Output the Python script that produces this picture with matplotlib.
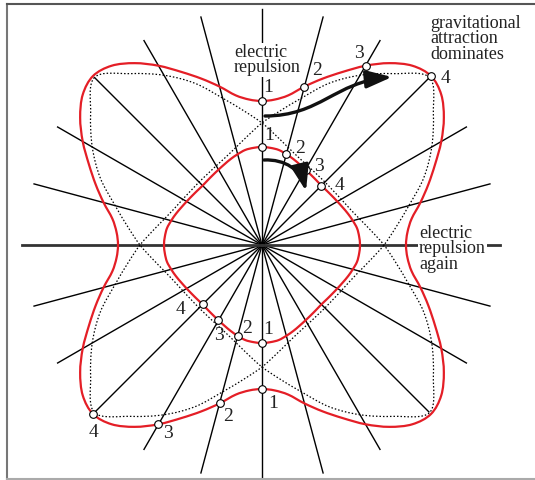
import numpy as np
import matplotlib.pyplot as plt
from matplotlib.path import Path
from matplotlib.patches import FancyArrowPatch, PathPatch
from matplotlib.transforms import IdentityTransform

# radius (px) of the two red curves, read every 5 deg from an axis (0) to a diagonal (45)
octant_deg = [0, 5, 10, 15, 20, 25, 30, 35, 40, 45]
outer_r = [144, 146, 152, 164, 177, 191, 207, 222, 234, 239]
inner_r = [98, 97.5, 96.5, 94, 91.5, 89, 87, 85.5, 84.5, 84]

# dotted curves: radius every 7.5 deg from the long axis (0) to the short axis (90)
dotted_deg = [0, 7.5, 15, 22.5, 30, 37.5, 45, 52.5, 60, 67.5, 75, 82.5, 90]
dotted_r = [237, 216, 196, 175, 152, 135, 122, 110, 101, 95, 91.5, 89.5, 89]
dotted_long_axis = [45, 135]

spoke_deg = list(range(0, 360, 15))
spoke_len = 236
haxis_len = [238, 240]  # right, left

# spokes that carry the numbered points 1..4
top_deg = [90, 75, 60, 45]
bottom_deg = [270, 255, 240, 225]
numbers = ['1', '2', '3', '4']

# label offsets in pixels from each point
off_top_outer = [(6, 14), (13, 16), (-7, 12), (15, -2)]
off_top_inner = [(7, 12), (14, 6), (13, 3), (18, 0)]
off_bot_inner = [(6, 14), (9, 7), (0, -15), (-22, -5)]
off_bot_outer = [(11, -15), (9, -13), (9, -9), (0, -19)]

RED = '#e41e26'
SERIF = 'Liberation Serif'


def radius_at(ang, step, values, period):
    # mirror the measured part around the circle
    t = ang % period
    if t > period / 2:
        t = period - t
    return values[int(round(t / step))]


def smooth_loop(ax, step, values, period, rot=0, **kw):
    angs = np.arange(0, 360, step)
    rs = [radius_at(a, step, values, period) for a in angs]
    pts = ax.transData.transform(np.column_stack([np.radians(angs + rot), rs]))
    n = len(pts)
    verts = [pts[0]]
    codes = [Path.MOVETO]
    for i in range(n):
        p0, p1, p2, p3 = pts[i - 1], pts[i], pts[(i + 1) % n], pts[(i + 2) % n]
        verts += [p1 + (p2 - p0) / 6, p2 - (p3 - p1) / 6, p2]
        codes += [Path.CURVE4] * 3
    ax.add_patch(PathPatch(Path(verts, codes), transform=IdentityTransform(),
                           fill=False, **kw))


W, H = 535, 480
cx, cy = 262, 480 - 245
R = 245
fig = plt.figure(figsize=(W / 100, H / 100), dpi=100)
ax = fig.add_axes([(cx - R) / W, (cy - R) / H, 2 * R / W, 2 * R / H], projection='polar')
ax.set_ylim(0, R)
ax.set_axis_off()

for d in spoke_deg:
    if d in (0, 180):
        continue
    ax.plot([np.radians(d)] * 2, [0, spoke_len], color='black', lw=1.0, zorder=2)
ax.plot([0, 0], [0, haxis_len[0]], color='#333333', lw=2.0, zorder=2)
ax.plot([np.pi, np.pi], [0, haxis_len[1]], color='#333333', lw=2.0, zorder=2)

for rot in dotted_long_axis:
    smooth_loop(ax, 7.5, dotted_r, 180, rot, ec='black', lw=0.9, ls=(0, (1.2, 1.6)), zorder=3)

for vals in (outer_r, inner_r):
    smooth_loop(ax, 5, vals, 90, ec=RED, lw=1.6, zorder=4)

groups = [(top_deg, outer_r, off_top_outer), (top_deg, inner_r, off_top_inner),
          (bottom_deg, inner_r, off_bot_inner), (bottom_deg, outer_r, off_bot_outer)]
for degs, vals, offs in groups:
    for d, lab, off in zip(degs, numbers, offs):
        r = radius_at(d, 5, vals, 90)
        ax.plot(np.radians(d), r, 'o', ms=5.5, mfc='white', mec='black', mew=0.8, zorder=5)
        ax.annotate(lab, xy=(np.radians(d), r), xytext=off, textcoords='offset pixels',
                    ha='center', va='center', fontsize=14, family=SERIF, color='#222222',
                    zorder=6)

# overlay in pixel coordinates for frame, words and arrows
top = fig.add_axes([0, 0, 1, 1])
top.set_xlim(0, W)
top.set_ylim(H, 0)
top.set_axis_off()
top.set_zorder(2)

top.plot([7, 7], [4, 479], color='#777777', lw=1.5)
top.plot([7, W], [4, 4], color='#555555', lw=1.5)
top.plot([7, W], [479, 479], color='#aaaaaa', lw=1.5)

box = dict(boxstyle='square,pad=0.05', fc='white', ec='none')
txt = dict(family=SERIF, fontsize=13, color='#222222', linespacing=0.88, ha='left', va='top')
top.text(234, 44, 'electric\nrepulsion', bbox=box, **txt)
top.text(430, 15, 'gravitational\nattraction\ndominates', **txt)
top.text(419, 225, 'electric\nrepulsion\nagain', bbox=box, **txt)

arrow_paths = [
    [(265, 116), (320, 116), (335, 82), (392, 77)],
    [(264, 160), (285, 159), (301, 170), (306, 191)],
]
for verts in arrow_paths:
    p = Path(verts, [Path.MOVETO, Path.CURVE4, Path.CURVE4, Path.CURVE4])
    top.add_patch(FancyArrowPatch(path=p, arrowstyle='-|>,head_length=1.3,head_width=0.45',
                                  mutation_scale=12, lw=2.4, color='#111111',
                                  shrinkA=0, shrinkB=0))

fig.savefig('out.png', dpi=100)
